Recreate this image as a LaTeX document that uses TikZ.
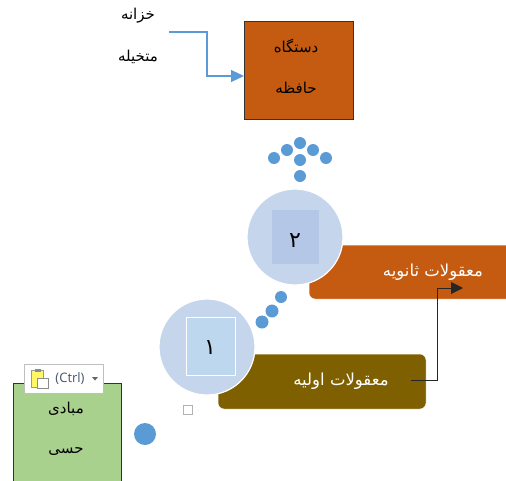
\documentclass[tikz,border=0pt]{standalone}
\usepackage{fontspec}
\newfontfamily\arabicfont[Script=Arabic]{DejaVu Sans}
\setsansfont{Open Sans}
\TeXXeTstate=1
\definecolor{rust}{HTML}{C55A11}
\definecolor{olive}{HTML}{7F6000}
\definecolor{leaf}{HTML}{A9D18E}
\definecolor{skyline}{HTML}{5B9BD5}
\definecolor{disc}{HTML}{C5D5EB}
\definecolor{squareA}{HTML}{BDD7EE}
\definecolor{squareB}{HTML}{B4C7E7}
\definecolor{ctrlblue}{HTML}{44546A}
\usetikzlibrary{arrows.meta}
\tikzset{
  label/.style={font=\arabicfont\fontsize{15}{18}\selectfont, inner sep=0pt},
  whitelabel/.style={font=\arabicfont\fontsize{16.5}{20}\selectfont, inner sep=0pt, text=white},
  numeral/.style={font=\arabicfont\fontsize{22}{26}\selectfont, inner sep=0pt},
  bigdisc/.style={circle, fill=disc, draw=white, line width=1.2pt, minimum size=96pt, inner sep=0pt},
  panel/.style={rectangle, rounded corners=6pt, draw=white, line width=0.5pt, inner sep=0pt},
  framedbox/.style={rectangle, draw=black!80, line width=1pt, inner sep=0pt},
  blueline/.style={draw=skyline, line width=1.2pt, -{Triangle[length=13pt,width=12pt]}},
  blackline/.style={draw=black!85, line width=1pt, -{Triangle[length=12pt,width=12pt]}}
}
\begin{document}
\begin{tikzpicture}[x=1pt,y=-1pt]
\useasboundingbox (0,0) rectangle (506,480);
\clip (0,0) rectangle (506,480);
\node[label] at (138,16) (treasury) {\beginR خزانه\endR};
\node[label] at (138,57) (imagination) {\beginR متخیله\endR};
\node[framedbox, fill=rust, minimum width=109pt, minimum height=98pt] at (298.5,70) (storage) {};
\node[label] at (296,46) (storageA) {\beginR دستگاه\endR};
\node[label] at (296,88) (storageB) {\beginR حافظه\endR};
\coordinate (treasuryend) at (169,32);
\coordinate (treasurybend) at (207,76);
\coordinate (storagein) at (244,76);
\draw[blueline] (treasuryend) -| (treasurybend) -- (storagein);
  \fill[skyline] (300,143) circle (6pt);
  \fill[skyline] (287,150) circle (6pt);
  \fill[skyline] (313,150) circle (6pt);
  \fill[skyline] (274,158) circle (6pt);
  \fill[skyline] (326,158) circle (6pt);
  \fill[skyline] (300,160) circle (6pt);
  \fill[skyline] (300,176) circle (6pt);
  \fill[skyline] (281,297) circle (6pt);
  \fill[skyline] (272,311) circle (6.5pt);
  \fill[skyline] (262,322) circle (6.5pt);
  \fill[skyline] (145,434) circle (11pt);
\node[panel, fill=rust, minimum width=210pt, minimum height=54pt] at (414,272) (secondary) {};
\node[panel, fill=olive, minimum width=208pt, minimum height=55pt] at (322,381.5) (primary) {};
\node[bigdisc] at (295,237) (discB) {};
\node[bigdisc] at (207,347) (discA) {};
\node[rectangle, fill=squareB, minimum width=47pt, minimum height=54pt, inner sep=0pt] at (295.5,237) (squareTwo) {};
\node[rectangle, fill=squareA, draw=white, line width=0.8pt, minimum width=49pt, minimum height=58pt, inner sep=0pt] at (210.5,346) (squareOne) {};
\node[numeral] at (295,241) (two) {\beginR ۲\endR};
\node[numeral] at (210,348) (one) {\beginR ۱\endR};
\node[whitelabel] at (433,272) (secondarytext) {\beginR معقولات ثانویه\endR};
\node[whitelabel] at (341,381) (primarytext) {\beginR معقولات اولیه\endR};
\coordinate (primaryend) at (411,380);
\coordinate (primarybend) at (437,288);
\coordinate (secondaryin) at (463,288);
\draw[blackline] (primaryend) -| (primarybend) -- (secondaryin);
\node[rectangle, draw=black!30, fill=white, line width=0.6pt, minimum size=9pt, inner sep=0pt] at (188,410) (checkbox) {};
\node[framedbox, fill=leaf, minimum width=108pt, minimum height=110pt] at (67,438) (senses) {};
\node[label] at (66,409) (sensesA) {\beginR مبادی\endR};
\node[label] at (66,452) (sensesB) {\beginR حسی\endR};
\node[rectangle, draw=black!25, fill=white, line width=0.8pt, minimum width=79pt, minimum height=29pt, inner sep=0pt] at (63.5,378.5) (paste) {};
\node[rectangle, fill=yellow!60, draw=black!40, line width=0.5pt, minimum width=12pt, minimum height=17pt, inner sep=0pt] at (37.5,379) (clipboard) {};
\node[rectangle, fill=black!45, minimum width=6pt, minimum height=3pt, inner sep=0pt] at (37.5,370) (clip) {};
\node[rectangle, fill=white, draw=black!45, line width=0.5pt, minimum width=11pt, minimum height=10pt, inner sep=0pt] at (43,383) (sheet) {};
\node[font=\sffamily\fontsize{13}{15}\selectfont, text=ctrlblue, inner sep=0pt] at (70,378.5) (ctrl) {(Ctrl)};
\fill[black!60] (92,377) -- (98,377) -- (95,380.5) -- cycle;
\end{tikzpicture}
\end{document}
